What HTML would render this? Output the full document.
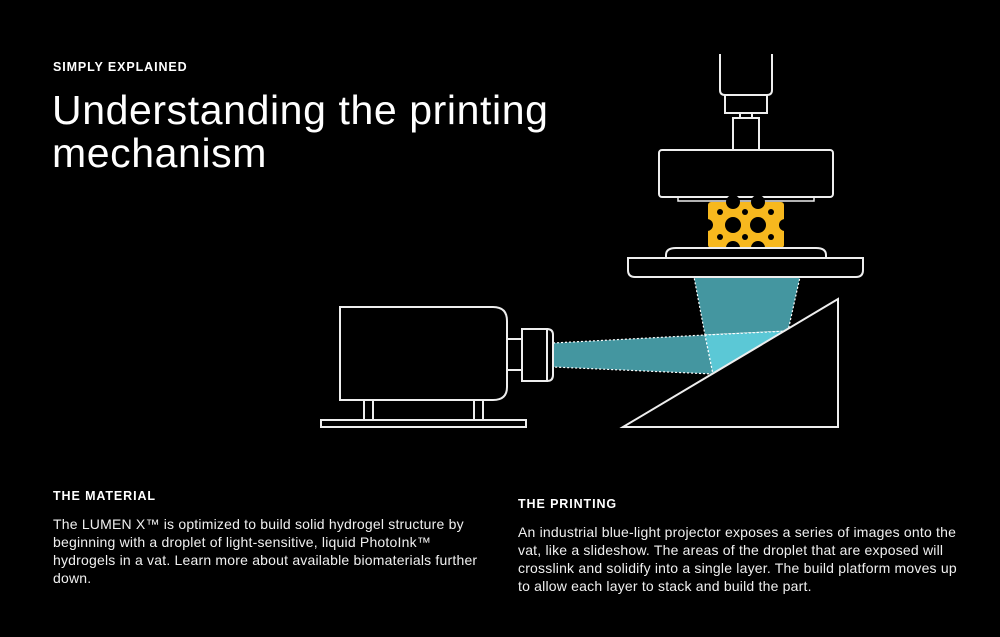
<!DOCTYPE html>
<html><head><meta charset="utf-8"><style>
html,body{margin:0;padding:0;background:#000;}
body{width:1000px;height:637px;position:relative;overflow:hidden;font-family:"Liberation Sans",sans-serif;color:#fff;}
.t{position:absolute;white-space:nowrap;}
.k{font-size:12.5px;font-weight:bold;letter-spacing:0.9px;}
.h{font-size:41px;line-height:43px;letter-spacing:0.6px;}
.b{font-size:14px;line-height:18px;color:#f0f0f0;letter-spacing:0.2px;}
</style></head><body>
<div class="t k" style="left:53px;top:60px;">SIMPLY EXPLAINED</div>
<div class="t h" style="left:52px;top:89px;">Understanding the printing<br>mechanism</div>
<div class="t k" style="left:53px;top:489px;">THE MATERIAL</div>
<div class="t b" style="left:53px;top:515px;">The LUMEN X™ is optimized to build solid hydrogel structure by<br>beginning with a droplet of light-sensitive, liquid PhotoInk™<br>hydrogels in a vat. Learn more about available biomaterials further<br>down.</div>
<div class="t k" style="left:518px;top:497px;">THE PRINTING</div>
<div class="t b" style="left:518px;top:523px;">An industrial blue-light projector exposes a series of images onto the<br>vat, like a slideshow. The areas of the droplet that are exposed will<br>crosslink and solidify into a single layer. The build platform moves up<br>to allow each layer to stack and build the part.</div>
<svg width="1000" height="637" style="position:absolute;left:0;top:0" fill="none" stroke="#eee" stroke-width="2">
<polygon points="694,277 800,277 788,331 705,335" fill="#4496a0" stroke="#fff" stroke-width="1.2" stroke-dasharray="2,2"/>
<polygon points="553,343 705,335 713,374 553,367" fill="#4496a0" stroke="#fff" stroke-width="1.2" stroke-dasharray="2,2"/>
<polygon points="705,335 788,331 713,374" fill="#5bc8d6" stroke="#fff" stroke-width="1.2" stroke-dasharray="2,2"/>
<polygon points="623,427 838,299 838,427" fill="#000"/>
<path d="M720,54 V90 Q720,95 725,95 H767 Q772,95 772,90 V54"/>
<rect x="725" y="95" width="42" height="18"/>
<rect x="740" y="113" width="12" height="5"/>
<rect x="733" y="118" width="26" height="32"/>
<rect x="659" y="150" width="174" height="47" rx="3"/>
<rect x="678" y="197" width="136" height="4" stroke-width="1.5"/>
<g>
<rect x="708" y="202" width="76" height="46" rx="3" fill="#f7b81e" stroke="none"/>
<g fill="#000" stroke="none">
<circle cx="733" cy="225" r="8"/><circle cx="758" cy="225" r="8"/>
<circle cx="720" cy="212" r="3"/><circle cx="745" cy="212" r="3"/><circle cx="771" cy="212" r="3"/>
<circle cx="720" cy="237" r="3"/><circle cx="745" cy="237" r="3"/><circle cx="771" cy="237" r="3"/>
<circle cx="733" cy="202" r="7"/><circle cx="758" cy="202" r="7"/>
<circle cx="733" cy="248" r="7"/><circle cx="758" cy="248" r="7"/>
<circle cx="707" cy="225" r="6"/><circle cx="785" cy="225" r="6"/>
</g>
</g>
<path d="M666,258 V255 Q666,248 676,248 H816 Q826,248 826,255 V258" fill="#000"/>
<path d="M628,258 H863 V270 Q863,277 856,277 H635 Q628,277 628,270 Z" fill="#000"/>
<path d="M340,307 H493 Q507,307 507,321 V387 Q507,400 493,400 H340 Z" fill="#000"/>
<rect x="507" y="339" width="15" height="31"/>
<path d="M547,329 Q553,329 553,335 V375 Q553,381 547,381"/>
<rect x="522" y="329" width="25" height="52" fill="#000"/>
<rect x="364" y="400" width="9" height="20"/>
<rect x="474" y="400" width="9" height="20"/>
<rect x="321" y="420" width="205" height="7"/>
</svg>
</body></html>
